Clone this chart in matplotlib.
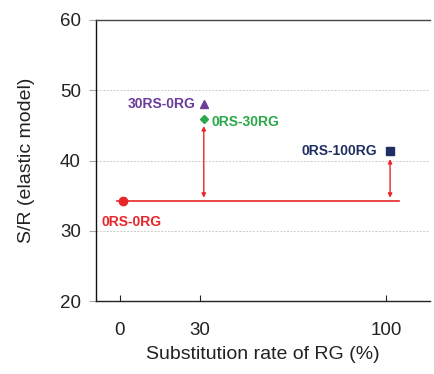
import matplotlib
matplotlib.use("Agg")
import matplotlib.pyplot as plt

plt.rcParams["font.family"] = ["Liberation Sans", "DejaVu Sans"]

# Data
labels = ["0RS-0RG", "30RS-0RG", "0RS-30RG", "0RS-100RG"]
x_vals = [1, 31.5, 31.5, 101.5]
y_vals = [34.2, 48.0, 45.9, 41.3]
colors = ["#e8262a", "#6a3d9a", "#2aa84a", "#1f2f63"]
markers = ["o", "^", "D", "s"]
sizes = [6, 5.5, 4.5, 5.5]
baseline = 34.2
base_x = [-1, 105]
x_ticks = [0, 30, 100]
y_ticks = [20, 30, 40, 50, 60]

fig = plt.figure(figsize=(4.34, 3.74), dpi=100)
ax = fig.add_axes([96/434, 1-301/374, 334/434, 281/374])
ax.set_xlim(-9, 116.5)
ax.set_ylim(20, 60)

for v in [30, 40, 50]:
    ax.axhline(v, color="#cccccc", lw=0.7, ls=(0, (2, 1.5)), zorder=0)

# baseline
ax.plot(base_x, [baseline, baseline], color="#e8262a", lw=1.2, zorder=2)

for x, y, c, m, s in zip(x_vals, y_vals, colors, markers, sizes):
    ax.plot([x], [y], marker=m, color=c, ms=s, ls="none", zorder=4)

# arrows
arrow_kw = dict(arrowstyle="<|-|>", color="#e8262a", lw=1.0, mutation_scale=6)
ax.annotate("", xy=(x_vals[2], y_vals[2] - 0.6), xytext=(x_vals[2], baseline + 0.1),
            arrowprops=arrow_kw)
ax.annotate("", xy=(x_vals[3], y_vals[3] - 0.7), xytext=(x_vals[3], baseline + 0.1),
            arrowprops=arrow_kw)

fs = 10
ax.text(-7, 31.3, labels[0], color=colors[0], fontsize=fs, fontweight="bold", ha="left", va="center")
ax.text(28.5, 48.0, labels[1], color=colors[1], fontsize=fs, fontweight="bold", ha="right", va="center")
ax.text(34.5, 45.5, labels[2], color=colors[2], fontsize=fs, fontweight="bold", ha="left", va="center")
ax.text(96.5, 41.3, labels[3], color=colors[3], fontsize=fs, fontweight="bold", ha="right", va="center")

ax.set_xticks(x_ticks)
ax.set_yticks(y_ticks)
ax.tick_params(axis="x", direction="in", length=4, pad=15, labelsize=13.5, colors="#222222")
ax.tick_params(axis="y", direction="out", length=5, color="#aaaaaa", labelsize=13.5, labelcolor="#222222", pad=6)

ax.spines["right"].set_visible(False)
ax.spines["top"].set_color("#444444")
ax.spines["left"].set_color("#111111")
ax.spines["bottom"].set_color("#222222")
for s in ax.spines.values():
    s.set_linewidth(1.0)

ax.set_xlabel("Substitution rate of RG (%)", fontsize=14, color="#222222", labelpad=5)
ax.set_ylabel("S/R (elastic model)", fontsize=14, color="#222222", labelpad=18)

fig.savefig("out.png", dpi=100)
